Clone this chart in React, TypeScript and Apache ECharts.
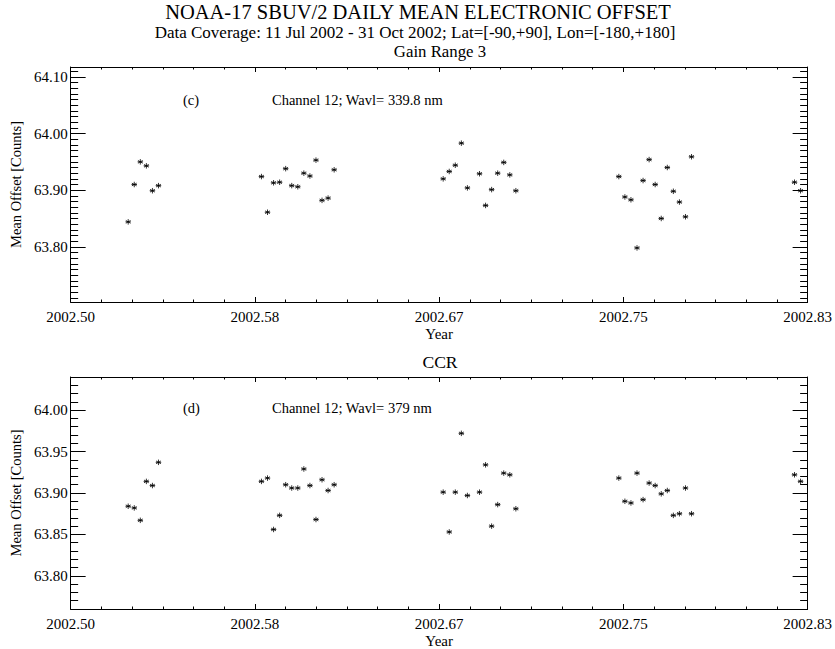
import React, { useEffect, useRef } from "react";
import * as echarts from "echarts";

// Day of year (2002) for each daily mean
const dayOfYear = [
  192, 193, 194, 195, 196, 197,
  214, 215, 216, 217, 218, 219, 220, 221, 222, 223, 224, 225, 226,
  244, 245, 246, 247, 248, 250, 251, 252, 253, 254, 255, 256,
  273, 274, 275, 276, 277, 278, 279, 280, 281, 282, 283, 284, 285,
  302, 303,
];

// Gain range 3, channel 12 (339.8 nm) daily mean offset [counts]
const gainRange3Offset = [
  63.844, 63.910, 63.950, 63.943, 63.899, 63.908,
  63.924, 63.861, 63.913, 63.914, 63.938, 63.908, 63.906, 63.930, 63.925, 63.953, 63.882, 63.886, 63.936,
  63.920, 63.933, 63.944, 63.983, 63.904, 63.929, 63.873, 63.901, 63.930, 63.949, 63.927, 63.899,
  63.924, 63.888, 63.883, 63.798, 63.917, 63.954, 63.910, 63.850, 63.940, 63.898, 63.879, 63.853, 63.959,
  63.914, 63.899,
];

// CCR, channel 12 (379 nm) daily mean offset [counts]
const ccrOffset = [
  63.884, 63.882, 63.867, 63.914, 63.909, 63.937,
  63.914, 63.918, 63.856, 63.873, 63.910, 63.906, 63.906, 63.929, 63.909, 63.868, 63.916, 63.903, 63.910,
  63.901, 63.853, 63.901, 63.972, 63.897, 63.901, 63.934, 63.860, 63.886, 63.924, 63.922, 63.881,
  63.918, 63.890, 63.888, 63.924, 63.892, 63.912, 63.909, 63.899, 63.903, 63.873, 63.875, 63.906, 63.875,
  63.922, 63.914,
];

// Axis ranges
const YEAR = 2002;
const xMonthRange = [6, 10]; // months into 2002 -> 2002.50 .. 2002.83
const gainYRange = [63.7025, 64.1175];
const ccrYRange = [63.76, 64.04];

const FONT = "Liberation Serif";
const INK = "#000000";

// asterisk marker
const ASTERISK = "path://M5,0L5,10M0.67,2.5L9.33,7.5M0.67,7.5L9.33,2.5M0,5L10,5";

const toMonths = (doy: number) => (doy / 365) * 12;

const yLabel = (v: number) => {
  const k = v * 20;
  return Math.abs(k - Math.round(k)) < 1e-6 ? v.toFixed(2) : "";
};

function xAxes(gridIndex: number) {
  const common = {
    type: "value",
    gridIndex,
    min: xMonthRange[0],
    max: xMonthRange[1],
    interval: 1,
    axisLine: { show: true, lineStyle: { color: INK, width: 1 } },
    axisTick: { show: true, inside: true, length: 5, lineStyle: { color: INK } },
    minorTick: { show: true, splitNumber: 6, length: 2.5, lineStyle: { color: INK } },
    splitLine: { show: false },
    minorSplitLine: { show: false },
  };
  return [
    {
      ...common,
      position: "bottom",
      name: "Year",
      nameLocation: "middle",
      nameGap: 24,
      nameTextStyle: { fontFamily: FONT, fontSize: 15, color: INK },
      axisLabel: {
        show: true,
        margin: 7,
        fontFamily: FONT,
        fontSize: 15,
        color: INK,
        formatter: (v: number) => (YEAR + v / 12).toFixed(2),
      },
    },
    { ...common, position: "top", axisLabel: { show: false } },
  ];
}

function yAxes(gridIndex: number, range: number[], minorSplit: number) {
  const common = {
    type: "value",
    gridIndex,
    min: range[0],
    max: range[1],
    axisLine: { show: true, lineStyle: { color: INK, width: 1 } },
    axisTick: { show: true, inside: true, length: 15, lineStyle: { color: INK } },
    minorTick: { show: true, splitNumber: minorSplit, length: 7.5, lineStyle: { color: INK } },
    splitLine: { show: false },
    minorSplitLine: { show: false },
  };
  return [
    {
      ...common,
      position: "left",
      name: "Mean Offset [Counts]",
      nameLocation: "middle",
      nameGap: 47,
      nameTextStyle: { fontFamily: FONT, fontSize: 14.5, color: INK },
      axisLabel: {
        show: true,
        margin: 3,
        fontFamily: FONT,
        fontSize: 15,
        color: INK,
        formatter: yLabel,
      },
    },
    { ...common, position: "right", axisLabel: { show: false } },
  ];
}

function text(x: number, y: number, str: string, size: number, align = "center") {
  return {
    type: "text",
    x,
    y,
    style: {
      text: str,
      fontFamily: FONT,
      fontSize: size,
      lineHeight: size,
      fill: INK,
      textAlign: align,
      textVerticalAlign: "middle",
    },
  };
}

export default function App() {
  const ref = useRef<HTMLDivElement>(null);

  useEffect(() => {
    if (!ref.current) return;
    const chart = echarts.init(ref.current, null, { renderer: "svg" });

    const gainData = dayOfYear.map((d, i) => [toMonths(d), gainRange3Offset[i]]);
    const ccrData = dayOfYear.map((d, i) => [toMonths(d), ccrOffset[i]]);

    const marker = {
      type: "scatter",
      symbol: ASTERISK,
      symbolSize: 5.5,
      itemStyle: { color: INK, borderColor: INK, borderWidth: 1 },
      silent: true,
    };

    chart.setOption({
      animation: false,
      backgroundColor: "#ffffff",
      grid: [
        { left: 70, top: 67, width: 738, height: 235 },
        { left: 70, top: 377, width: 738, height: 235 },
      ],
      xAxis: [...xAxes(0), ...xAxes(1)],
      yAxis: [...yAxes(0, gainYRange, 10), ...yAxes(1, ccrYRange, 5)],
      series: [
        { ...marker, name: "Gain Range 3", xAxisIndex: 0, yAxisIndex: 0, data: gainData },
        { ...marker, name: "CCR", xAxisIndex: 2, yAxisIndex: 2, data: ccrData },
      ],
      graphic: [
        text(418, 11.8, "NOAA-17 SBUV/2 DAILY MEAN ELECTRONIC OFFSET", 20.5),
        text(415, 32.6, "Data Coverage: 11 Jul 2002 - 31 Oct 2002; Lat=[-90,+90], Lon=[-180,+180]", 17),
        text(440, 51.5, "Gain Range 3", 16.8),
        text(440, 362, "CCR", 17.6),
        text(183, 99.5, "(c)", 14.5, "left"),
        text(272, 99.5, "Channel 12; Wavl= 339.8 nm", 14.5, "left"),
        text(183, 408, "(d)", 14.5, "left"),
        text(272, 408, "Channel 12; Wavl= 379 nm", 14.5, "left"),
      ],
    });

    return () => chart.dispose();
  }, []);

  return (
    <div
      ref={ref}
      style={{ position: "absolute", left: 0, top: 0, width: 835, height: 649, background: "#ffffff" }}
    />
  );
}
